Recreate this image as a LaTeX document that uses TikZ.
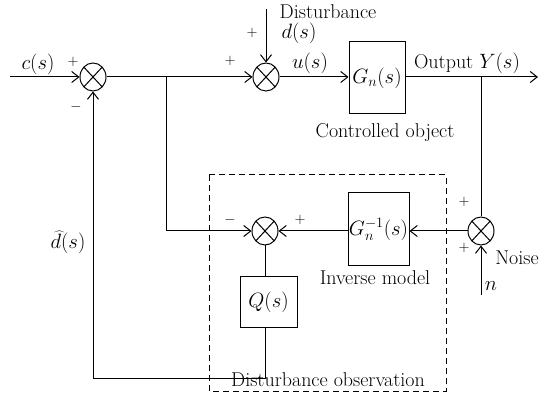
\documentclass[tikz,border=0pt]{standalone}
\usetikzlibrary{arrows.meta,shapes.geometric,calc}
\begin{document}
\begin{tikzpicture}[x=1pt,y=-1pt,
  font=\fontsize{20}{24}\selectfont,
  line width=1pt,
  >={Straight Barb[length=7pt,width=11pt,line width=1pt]},
  sumnode/.style={draw,ellipse,inner sep=0pt,minimum width=26pt,minimum height=28pt,
    path picture={\draw (path picture bounding box.north west)--(path picture bounding box.south east)
      (path picture bounding box.north east)--(path picture bounding box.south west);}},
  blockbox/.style={draw,rectangle,inner sep=0pt},
  lbl/.style={inner sep=1pt},
  sign/.style={inner sep=0pt,font=\fontsize{15}{18}\selectfont}]
\useasboundingbox (0,0) rectangle (544,406);
% dashed observer box
\draw[dash pattern=on 6pt off 4pt] (209,175) rectangle (446,391);
\node[lbl] (dobs) at (328,380) {Disturbance observation};
% nodes
\node[sumnode] (s1) at (93,77) {};
\node[sumnode] (s2) at (266,77) {};
\node[blockbox,minimum width=56pt,minimum height=72pt] (Gn) at (377,78) {$G_n(s)$};
\node[sumnode] (s3) at (481,231) {};
\node[blockbox,minimum width=61pt,minimum height=73pt] (Gi) at (378.5,229.5) {$G_n^{-1}(s)$};
\node[sumnode] (s4) at (265,231) {};
\node[blockbox,minimum width=57pt,minimum height=51pt] (Q) at (268.5,302.5) {$Q(s)$};
% coordinates
\coordinate (in) at (10,77);
\coordinate (dtop) at (266,9);
\coordinate (out) at (538,77);
\coordinate (br1) at (166,77);
\coordinate (br2) at (481,77);
\coordinate (ntop) at (481,295);
\coordinate (fb) at (265,378);
% connectors
\draw[->] (in) -- (s1.west);
\draw[->] (s1.east) -- (s2.west);
\draw[->] (dtop) -- (s2.north);
\draw[->] (s2.east) -- (s2 -| Gn.west);
\draw[->] (s2 -| Gn.east) -- (out);
\draw (br2) -- (s3.north);
\draw[->] (ntop) -- (s3.south);
\draw[->] (s3.west) -- (s3 -| Gi.east);
\draw[->] (s4 -| Gi.west) -- (s4.east);
\draw[->] (br1) |- (s4.west);
\draw (s4.south) -- (s4 |- Q.north);
\draw[->] (s4 |- Q.south) -- (fb) -| (s1.south);
% labels
\node[lbl] (lc) at (38,64) {$c(s)$};
\node[sign] (p1) at (73,62) {$+$};
\node[sign] (m1) at (76,107) {$-$};
\node[sign] (p2) at (230,61) {$+$};
\node[sign] (p3) at (252,33) {$+$};
\node[lbl] (ldist) at (328,12) {Disturbance};
\node[lbl] (ld) at (299,33) {$d(s)$};
\node[lbl] (lu) at (310,63) {$u(s)$};
\node[lbl] (lout) at (467,63) {Output $Y(s)$};
\node[lbl] (lco) at (385,133) {Controlled object};
\node[lbl] (ldh) at (68,242) {$\widehat{d}(s)$};
\node[sign] (m4) at (230,220) {$-$};
\node[sign] (p4) at (300,220) {$+$};
\node[lbl] (lim) at (375,278) {Inverse model};
\node[sign] (p5) at (464,202) {$+$};
\node[sign] (p6) at (464,248) {$+$};
\node[lbl] (lnoise) at (517,258) {Noise};
\node[lbl] (ln) at (491,286) {$n$};
\end{tikzpicture}
\end{document}
